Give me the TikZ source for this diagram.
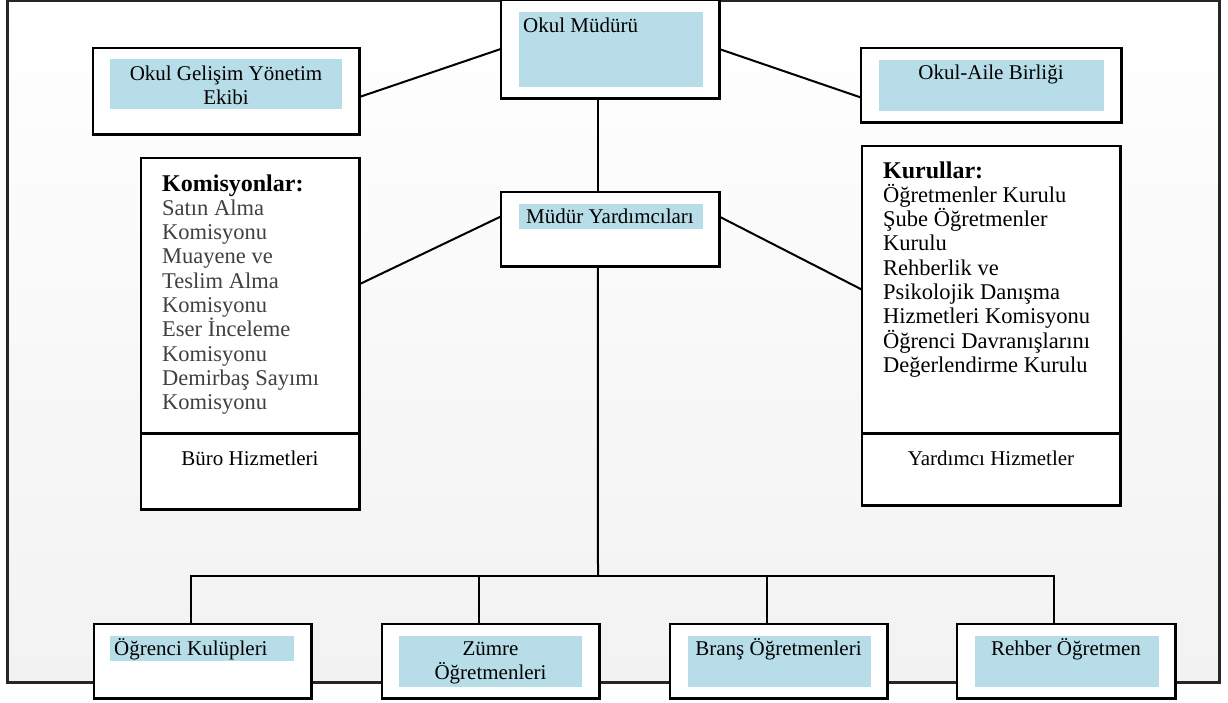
\documentclass[tikz,border=0pt]{standalone}
\usepackage{fontspec}
\setmainfont{Liberation Serif}
\usetikzlibrary{calc}
\definecolor{boxblue}{HTML}{B7DDE8}
\definecolor{bggrey}{HTML}{F2F2F2}
\definecolor{listgrey}{HTML}{404040}
\begin{document}
\begin{tikzpicture}[x=1pt,y=-1pt,
  box/.style={draw=black, line width=2.5pt, fill=white, rectangle, inner sep=0pt},
  bluefill/.style={fill=boxblue, draw=none, rectangle, inner sep=0pt},
  lab/.style={font=\fontsize{21}{24}\selectfont, inner sep=0pt, text=black},
  listtxt/.style={inner sep=0pt, anchor=base west, text=black},
  conn/.style={line width=2pt, draw=black},
  frame/.style={line width=3pt, draw=black!85}
]
\useasboundingbox (0,0) rectangle (1228,702);
% background frame
\shade[top color=white, bottom color=bggrey] (7,0) rectangle (1220,682);
\draw[frame] (7,0.5) rectangle (1219.5,682);

% boxes (named, drawn later visually on top of connectors)
\path
  node[box, minimum width=216pt, minimum height=96pt] (om) at (610,49) {}
  node[box, minimum width=264pt, minimum height=84pt] (ogye) at (226,91) {}
  node[box, minimum width=258pt, minimum height=72pt] (oab) at (991,85) {}
  node[box, minimum width=216pt, minimum height=72pt] (my) at (610,229) {}
  node[box, minimum width=216pt, minimum height=349pt] (kom) at (250,333.5) {}
  node[box, minimum width=256pt, minimum height=357pt] (kur) at (991,325.5) {}
  node[box, minimum width=215pt, minimum height=72pt] (b1) at (202.5,661) {}
  node[box, minimum width=215pt, minimum height=72pt] (b2) at (490.5,661) {}
  node[box, minimum width=215pt, minimum height=72pt] (b3) at (778.5,661) {}
  node[box, minimum width=216pt, minimum height=72pt] (b4) at (1066,661) {};

% connectors (behind boxes)
\begin{scope}[on background layer/.style={}]
\end{scope}
\coordinate (bus) at (598,576);
\coordinate (t1) at ($(b1.north)+(-12,0)$);
\coordinate (t2) at ($(b2.north)+(-12,0)$);
\coordinate (t3) at ($(b3.north)+(-12,0)$);
\coordinate (t4) at ($(b4.north)+(-12,0)$);
\draw[conn] ($(ogye.south east)!0.43!(ogye.north east)$) -- (om.west);
\draw[conn] (om.east) -- ($(oab.south west)!0.333!(oab.north west)$);
\draw[conn] ($(om.south west)!0.444!(om.south east)$) -- ($(my.north west)!0.444!(my.north east)$);
\draw[conn] ($(my.south west)!0.667!(my.north west)$) -- ($(kom.south east)!0.64!(kom.north east)$);
\draw[conn] ($(my.south east)!0.667!(my.north east)$) -- ($(kur.south west)!0.60!(kur.north west)$);
\draw[conn] ($(my.south west)!0.444!(my.south east)$) -- (bus);
\draw[conn] (t1) |- (bus) -| (t4);
\draw[conn] (t2) -- (t2 |- bus);
\draw[conn] (t3) -- (t3 |- bus);

% redraw boxes on top
\foreach \n in {om,ogye,oab,my,kom,kur,b1,b2,b3,b4}{
  \draw[box] (\n.north west) rectangle (\n.south east);
}
% dividers
\draw[box] ($(kom.south west)!0.215!(kom.north west)$) -- ($(kom.south east)!0.215!(kom.north east)$);
\draw[box] ($(kur.south west)!0.199!(kur.north west)$) -- ($(kur.south east)!0.199!(kur.north east)$);

% blue fills
\node[bluefill, minimum width=184pt, minimum height=75pt] (omb) at (611,49.5) {};
\node[bluefill, minimum width=232pt, minimum height=50pt] (ogyeb) at (226,84) {};
\node[bluefill, minimum width=225pt, minimum height=51pt] (oabb) at (991.5,85.5) {};
\node[bluefill, minimum width=184pt, minimum height=25pt] (myb) at (611,216.5) {};
\node[bluefill, minimum width=184pt, minimum height=25pt] (b1b) at (202,648.5) {};
\node[bluefill, minimum width=183pt, minimum height=51pt] (b2b) at (490.5,661.5) {};
\node[bluefill, minimum width=183pt, minimum height=51pt] (b3b) at (779.5,661.5) {};
\node[bluefill, minimum width=184pt, minimum height=51pt] (b4b) at (1067,661.5) {};

% labels
\node[lab, anchor=base west] (omt) at (523,32) {Okul Müdürü};
\node[lab, anchor=base] (ogyet) at (226,80) {\parbox[t]{230pt}{\centering Okul Gelişim Yönetim\\Ekibi}};
\node[lab, anchor=base] (oabt) at (991,79) {Okul-Aile Birliği};
\node[lab, anchor=base] (myt) at (610,223) {Müdür Yardımcıları};
\node[lab, anchor=base west] (b1t) at (114,655) {Öğrenci Kulüpleri};
\node[lab, anchor=base] (b2t) at (490.5,655) {\parbox[t]{180pt}{\centering Zümre\\Öğretmenleri}};
\node[lab, anchor=base] (b3t) at (778.5,655) {Branş Öğretmenleri};
\node[lab, anchor=base] (b4t) at (1066,655) {Rehber Öğretmen};
\node[lab, anchor=base] (kombt) at (250,465) {Büro Hizmetleri};
\node[lab, anchor=base] (kurbt) at (991,465) {Yardımcı Hizmetler};

\node[listtxt] (komt) at (162,191) {\parbox[t]{190pt}{\raggedright\fontsize{22.5}{24.3}\selectfont
  {\fontsize{24}{24.3}\selectfont\bfseries Komisyonlar:}\\
  \color{listgrey}Satın Alma\\Komisyonu\\Muayene ve\\Teslim Alma\\Komisyonu\\Eser İnceleme\\Komisyonu\\Demirbaş Sayımı\\Komisyonu}};
\node[listtxt] (kurt) at (883,178) {\parbox[t]{232pt}{\raggedright\fontsize{22.5}{24.3}\selectfont
  {\fontsize{24}{24.3}\selectfont\bfseries Kurullar:}\\
  Öğretmenler Kurulu\\Şube Öğretmenler\\Kurulu\\Rehberlik ve\\Psikolojik Danışma\\Hizmetleri Komisyonu\\Öğrenci Davranışlarını\\Değerlendirme Kurulu}};
\end{tikzpicture}
\end{document}
